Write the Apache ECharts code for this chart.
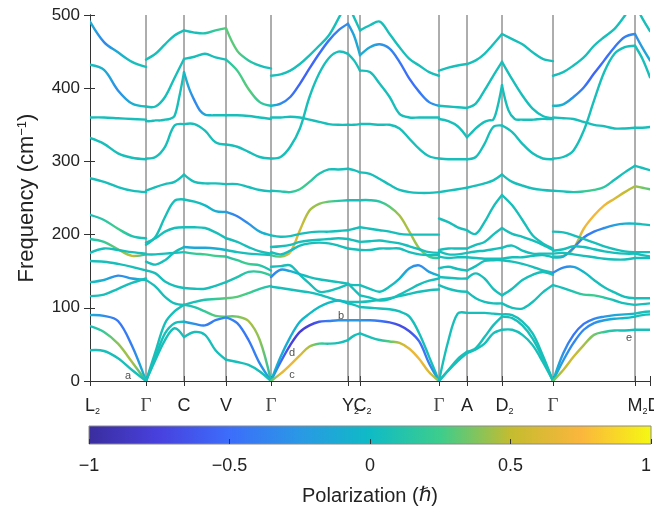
<!DOCTYPE html>
<html lang="en">
<head>
<meta charset="UTF-8">
<title>Phonon bands</title>
<script src="https://cdn.jsdelivr.net/npm/echarts@6/dist/echarts.min.js"></script>
<style>
  html, body { margin: 0; padding: 0; background: #fff; }
  #main { width: 654px; height: 515px; }
</style>
</head>
<body>
<div id="main"></div>
<script>
// high-symmetry points along the path (x units), labels and subscripts
var kPos = [0, 56, 94, 136, 181, 258, 270, 349, 377, 412, 463, 545, 560];
var kMain = ['L', 'Γ', 'C', 'V', 'Γ', 'Y', 'C', 'Γ', 'A', 'D', 'Γ', 'M', 'D'];
var kSub = ['2', '', '', '', '', '2', '2', '', '', '2', '', '2', ''];

// colour map of the polarization bar, from -1 to 1
var cmap = ['#3a2d9e', '#4841df', '#3c6dfb', '#2a98e5', '#0fbbc5', '#3dcd8c', '#c4bc30', '#fbb63d', '#f5f812'];

// frequencies (cm-1) of each band, evenly sampled along each segment
// polarization per band: one number for the whole piece or one value per sample
// L2 -> Γ
var f_LG = [
  [491, 463, 449, 436, 429],
  [432, 425, 397, 379, 375],
  [360, 360, 359, 358, 357],
  [332, 324, 311, 305, 303],
  [277, 272, 265, 260, 258],
  [227, 220, 208, 198, 195],
  [194, 190, 180, 171, 173],
  [175, 181, 179, 176, 174],
  [164, 163, 160, 156, 151],
  [135, 138, 144, 140, 138],
  [116, 118, 126, 134, 140],
  [90, 89, 82, 48, 0],
  [75, 67, 51, 26, 0],
  [42, 41, 31, 15, 0]
];
var p_LG = [
  [-0.1, -0.35, -0.1, 0.05, 0.05],
  [0.05, -0.1, -0.3, -0.1, 0.05],
  0.05, 0.05, 0.05,
  [0.05, 0.15, 0.25, 0.1, 0.05],
  [0.1, 0.2, 0.35, 0.5, 0.1],
  0.05, 0.05,
  [0.05, -0.1, -0.35, -0.2, 0.05],
  0.05,
  [-0.1, -0.3, -0.45, -0.4, 0],
  [0.05, 0.2, 0.4, 0.45, 0.1],
  0.05
];
// Γ -> C
var f_GC = [
  [439, 447, 460, 472, 479],
  [375, 375, 388, 414, 440],
  [355, 355, 356, 356, 357, 358, 362, 388, 422],
  [304, 306, 320, 349, 351],
  [260, 265, 269, 272, 282],
  [186, 197, 224, 246, 248],
  [189, 195, 204, 209, 210],
  [173, 173, 174, 175, 176],
  [163, 159, 165, 176, 183],
  [151, 147, 136, 130, 127],
  [138, 129, 115, 106, 104],
  [0, 40, 79, 95, 104],
  [0, 33, 65, 79, 81],
  [0, 29, 56, 72, 60]
];
var p_GC = [0.05, 0.05, 0.05, 0.05, 0.05, 0.05, 0.05, 0.05, 0.05, 0.05, 0.05, 0.05, 0.05, 0.05];
// C -> V
var f_CV = [
  [479, 476, 475, 479, 482],
  [440, 443, 447, 442, 439],
  [422, 399, 383, 370, 364, 363, 363, 363, 363],
  [351, 351, 342, 326, 323],
  [282, 272, 270, 270, 269],
  [248, 245, 240, 232, 231],
  [210, 210, 209, 203, 195],
  [183, 182, 182, 181, 179],
  [176, 174, 173, 171, 170],
  [127, 126, 126, 130, 135],
  [104, 108, 111, 112, 113],
  [104, 101, 95, 89, 88],
  [81, 78, 76, 83, 87],
  [60, 67, 63, 42, 29]
];
var p_CV = [
  [0.05, 0.05, 0.1, 0.2, 0.3],
  0.05,
  [0, -0.2, -0.35, -0.3, -0.1, 0, 0.05, 0.05, 0.05],
  0.05, 0.05,
  [0.05, 0.05, 0, -0.1, -0.2],
  0.05,
  [-0.1, -0.15, -0.15, -0.1, -0.05],
  [0.1, 0.2, 0.25, 0.25, 0.2],
  0.05,
  [0.05, 0.05, 0.1, 0.2, 0.3],
  [0.05, 0.1, 0.2, 0.3, 0.3],
  [-0.1, -0.3, -0.4, -0.4, -0.35],
  0.05
];
// V -> Γ
var f_VG = [
  [482, 451, 438, 431, 427],
  [439, 424, 399, 381, 376],
  [363, 363, 362, 360, 358],
  [323, 320, 313, 306, 304],
  [269, 269, 265, 261, 259],
  [231, 225, 215, 204, 199],
  [195, 190, 183, 177, 174],
  [179, 176, 174, 173, 172],
  [170, 165, 160, 158, 151],
  [135, 142, 149, 149, 144],
  [113, 115, 120, 126, 130],
  [88, 88, 82, 56, 0],
  [87, 79, 56, 24, 0],
  [29, 26, 22, 13, 0]
];
var p_VG = [
  [0.3, 0.3, 0.15, 0.05, 0.05],
  [0.1, 0.25, 0.3, 0.2, 0.1],
  0.05, 0.05, 0.05,
  [-0.2, -0.4, -0.3, -0.1, 0],
  0.05, 0.05,
  [0.1, 0.2, 0.25, 0.15, 0.05],
  [0.05, 0.1, 0.15, 0.2, 0.2],
  [0.3, 0.3, 0.25, 0.15, 0.1],
  [0.3, 0.35, 0.45, 0.4, 0.1],
  [-0.35, -0.4, -0.45, -0.35, -0.1],
  0.05
];
// Γ -> Y2
var f_GY = [
  [417, 419, 424, 433, 445, 458, 472, 495, 520],
  [376, 379, 388, 406, 427, 447, 465, 479, 488],
  [360, 360, 361, 360, 357, 354, 351, 350, 350],
  [304, 306, 320, 345, 388, 420, 441, 450, 447],
  [260, 259, 258, 262, 272, 283, 289, 289, 290],
  [172, 170, 176, 206, 233, 242, 245, 246, 247],
  [199, 197, 198, 201, 203, 204, 204, 205, 206],
  [183, 184, 186, 190, 192, 193, 194, 195, 194],
  [176, 173, 178, 185, 188, 189, 188, 185, 181],
  [156, 157, 158, 145, 133, 122, 123, 127, 132],
  [142, 152, 150, 146, 142, 139, 137, 135, 133],
  [129, 127, 125, 123, 121, 118, 114, 110, 108],
  [0, 33, 60, 81, 92, 101, 107, 110, 106],
  [0, 26, 49, 67, 76, 81, 82, 83, 83],
  [0, 10, 22, 35, 47, 51, 51, 52, 56]
];
var p_GY = [
  0.05,
  [0, -0.3, -0.45, -0.55, -0.55, -0.5, -0.45, -0.4, -0.3],
  0.05, 0.05,
  [0.05, 0.1, 0.15, 0.25, 0.2, 0.1, 0.05, 0.05, 0.05],
  [0.15, 0.35, 0.7, 0.55, 0.45, 0.4, 0.3, 0.15, 0.05],
  0.05, 0.05, 0.05, 0.05,
  [-0.35, -0.3, -0.1, 0, 0.05, 0.05, 0.05, 0.05, 0.05],
  0.05,
  [0, -0.1, -0.1, -0.05, 0, 0, 0, 0, 0],
  [0, -0.5, -0.75, -0.8, -0.75, -0.6, -0.4, -0.3, -0.25],
  [0.3, 0.65, 0.7, 0.62, 0.45, 0.25, 0.1, 0.05, 0.05]
];
// Y2 -> C2
var f_YC = [
  [515, 497, 479],
  [488, 472, 445],
  [350, 350, 351],
  [447, 438, 424],
  [290, 288, 285],
  [247, 247, 247],
  [206, 208, 210],
  [194, 192, 190],
  [181, 180, 179],
  [132, 131, 131],
  [133, 125, 117],
  [108, 108, 108],
  [106, 104, 101],
  [83, 83, 83],
  [56, 62, 65]
];
var p_YC = [0.05, [-0.3, -0.15, -0.1], 0.05, 0.05, 0.05, 0.05, 0.05, 0.05, 0.05, 0.05, 0.05, 0.05, 0.05, -0.25, 0.05];
// C2 -> Γ
var f_CG = [
  [479, 486, 491, 474, 456, 440, 431, 422, 417],
  [445, 456, 460, 454, 436, 413, 395, 381, 376],
  [351, 351, 350, 350, 345, 331, 317, 307, 304],
  [424, 422, 406, 388, 365, 360, 360, 360, 360],
  [285, 283, 276, 268, 261, 258, 257, 257, 258],
  [247, 247, 245, 238, 226, 204, 181, 170, 168],
  [210, 208, 206, 204, 201, 200, 200, 200, 200],
  [190, 191, 192, 190, 188, 184, 180, 176, 175],
  [179, 179, 181, 181, 181, 176, 173, 172, 172],
  [131, 126, 122, 129, 140, 154, 158, 149, 144],
  [117, 114, 110, 112, 118, 125, 132, 137, 140],
  [108, 109, 111, 113, 116, 119, 122, 124, 125],
  [101, 100, 99, 98, 95, 88, 65, 33, 0],
  [83, 83, 82, 80, 76, 68, 54, 24, 0],
  [65, 60, 56, 54, 52, 44, 30, 12, 0]
];
var p_CG = [
  0.05,
  [-0.1, -0.15, -0.25, -0.35, -0.45, -0.5, -0.45, -0.35, -0.2],
  0.05, 0.05, 0.05,
  [0.05, 0.1, 0.15, 0.3, 0.45, 0.45, 0.4, 0.25, 0.15],
  0.05, 0.05, 0.05,
  [0.05, 0.05, 0.05, 0.05, -0.05, -0.2, -0.35, -0.2, 0],
  0.05, 0.05, 0.05,
  [-0.25, -0.35, -0.45, -0.6, -0.7, -0.65, -0.5, -0.4, 0],
  [0.05, 0.05, 0.1, 0.3, 0.5, 0.65, 0.7, 0.6, 0.35]
];
// Γ -> A
var f_GA = [
  [424, 428, 431, 433],
  [376, 375, 374, 373],
  [358, 355, 348, 333],
  [304, 303, 303, 303],
  [258, 260, 262, 264],
  [222, 217, 210, 206],
  [179, 181, 181, 181],
  [177, 173, 173, 175],
  [170, 168, 169, 169],
  [154, 156, 153, 151],
  [142, 141, 140, 140],
  [131, 126, 123, 122],
  [0, 55, 92, 93],
  [0, 15, 30, 40],
  [0, 14, 27, 38]
];
var p_GA = [0.05, 0.05, 0.05, 0.05, 0.05, 0.05, 0.05, 0.05, 0.05, 0.05, 0.05, 0.05, 0.05, 0.05, 0.05];
// A -> D2
var f_AD = [
  [433, 438, 447, 460, 474],
  [373, 379, 397, 417, 436],
  [333, 339, 345, 350, 354, 356, 357, 375, 404],
  [303, 306, 324, 347, 349],
  [264, 267, 270, 274, 282],
  [206, 201, 217, 238, 254],
  [181, 186, 190, 200, 209],
  [175, 177, 178, 180, 182],
  [169, 168, 167, 167, 167],
  [151, 157, 164, 165, 165],
  [140, 147, 140, 126, 117],
  [122, 113, 108, 106, 106],
  [93, 93, 93, 92, 91],
  [40, 45, 60, 76, 88],
  [38, 43, 51, 65, 70]
];
var p_AD = [0.05, 0.05, 0.05, 0.05, 0.05, 0.05, 0.05, 0.05, 0.05, 0.05, 0.05, 0.05, 0.05, 0.05, 0.05];
// D2 -> Γ
var f_DG = [
  [474, 467, 460, 449, 440, 437],
  [436, 412, 390, 372, 362, 359],
  [404, 370, 358, 357, 357, 357, 358, 358, 358],
  [349, 340, 324, 311, 304, 303],
  [282, 272, 267, 263, 261, 260],
  [254, 240, 220, 199, 188, 181],
  [209, 201, 197, 192, 186, 179],
  [182, 185, 178, 174, 174, 174],
  [167, 169, 169, 171, 172, 169],
  [165, 163, 160, 156, 151, 148],
  [117, 126, 138, 145, 149, 145],
  [106, 100, 99, 108, 121, 131],
  [91, 90, 81, 65, 35, 0],
  [88, 86, 76, 58, 31, 0],
  [70, 70, 63, 49, 26, 0]
];
var p_DG = [0.05, 0.05, 0.05, 0.05, 0.05, 0.05, 0.05, 0.05, 0.05, 0.05, 0.05, 0.05, 0.05, 0.05, 0.05];
// Γ -> M2
var f_GM = [
  [417, 422, 431, 442, 458, 470, 481, 499, 520],
  [376, 378, 388, 401, 420, 438, 456, 470, 474],
  [360, 359, 358, 354, 350, 348, 345, 345, 346],
  [304, 306, 315, 342, 383, 422, 447, 456, 458],
  [260, 259, 258, 259, 261, 265, 275, 285, 294],
  [170, 171, 181, 208, 226, 240, 249, 258, 266],
  [169, 170, 182, 196, 204, 209, 213, 215, 215],
  [204, 203, 199, 194, 189, 184, 180, 177, 176],
  [178, 180, 184, 183, 180, 177, 175, 174, 174],
  [174, 175, 173, 171, 169, 167, 166, 166, 168],
  [148, 155, 156, 149, 138, 128, 121, 115, 113],
  [131, 127, 122, 118, 117, 114, 110, 106, 104],
  [0, 38, 63, 78, 85, 88, 90, 91, 92],
  [0, 28, 52, 70, 79, 83, 85, 86, 88],
  [0, 15, 33, 49, 63, 67, 69, 69, 70]
];
var p_GM = [
  0.05,
  [0, -0.1, -0.3, -0.45, -0.55, -0.5, -0.45, -0.4, -0.3],
  0.05, 0.05,
  [0.05, 0.05, 0.1, 0.2, 0.25, 0.15, 0.05, 0.05, 0.05],
  [0.1, 0.3, 0.45, 0.7, 0.72, 0.7, 0.6, 0.5, 0.45],
  [0.05, -0.1, -0.35, -0.45, -0.4, -0.3, -0.2, -0.1, 0],
  0.05, 0.05, 0.05,
  [-0.3, -0.35, -0.2, 0, 0.05, 0.05, 0.05, 0.05, 0.05],
  [0.05, 0.05, 0.1, 0.2, 0.25, 0.15, 0.05, 0.05, 0.05],
  [0, -0.3, -0.45, -0.45, -0.35, -0.25, -0.15, -0.1, -0.05],
  [0, -0.25, -0.35, -0.35, -0.3, -0.2, -0.1, 0, 0],
  [0.3, 0.5, 0.55, 0.45, 0.35, 0.2, 0.1, 0.05, 0.05]
];
// M2 -> D
var f_MD = [
  [515, 495, 478],
  [474, 455, 438],
  [346, 346, 347],
  [458, 440, 415],
  [294, 291, 288],
  [266, 264, 262],
  [215, 214, 213],
  [176, 176, 176],
  [174, 172, 170],
  [168, 168, 168],
  [113, 113, 113],
  [104, 105, 106],
  [92, 94, 95],
  [88, 90, 91],
  [70, 70, 70]
];
var p_MD = [0.05, [-0.3, -0.2, -0.1], 0.05, 0.05, 0.05, [0.45, 0.35, 0.3], 0.05, 0.05, 0.05, 0.05, 0.05, 0.05, 0.05, 0.05, 0.05];

// letters marking some branches
var notes = [['a', 38, 7], ['b', 251, 89], ['c', 202, 8], ['d', 202, 38], ['e', 539, 59]];

var segments = [
  [f_LG, p_LG], [f_GC, p_GC], [f_CV, p_CV], [f_VG, p_VG], [f_GY, p_GY], [f_YC, p_YC],
  [f_CG, p_CG], [f_GA, p_GA], [f_AD, p_AD], [f_DG, p_DG], [f_GM, p_GM], [f_MD, p_MD]
];

var bandList = [];
segments.forEach(function (s, i) {
  s[0].forEach(function (row, j) {
    bandList.push({ x0: kPos[i], x1: kPos[i + 1], f: row, p: s[1][j] });
  });
});

function polColor(p) {
  return echarts.color.lerp((p + 1) / 2, cmap);
}

function renderBand(params, api) {
  var b = bandList[params.dataIndex];
  var n = b.f.length;
  var pts = [], stops = [];
  for (var j = 0; j < n; j++) {
    var xv = b.x0 + (b.x1 - b.x0) * j / (n - 1);
    pts.push(api.coord([xv, b.f[j]]));
    var pv = typeof b.p === 'number' ? b.p : b.p[j];
    stops.push({ offset: j / (n - 1), color: polColor(pv) });
  }
  return {
    type: 'polyline',
    shape: { points: pts, smooth: 0.35 },
    style: {
      fill: null,
      stroke: new echarts.graphic.LinearGradient(pts[0][0], 0, pts[n - 1][0], 0, stops, true),
      lineWidth: 2.4,
      lineCap: 'round'
    }
  };
}

function renderKLine(params, api) {
  var p0 = api.coord([api.value(0), 0]);
  var p1 = api.coord([api.value(0), 500]);
  return {
    type: 'line',
    shape: { x1: p0[0], y1: p0[1], x2: p1[0], y2: p1[1] },
    style: { stroke: '#5c5c5c', lineWidth: 1 }
  };
}

function renderBar(params, api) {
  var a = api.coord([-1, 1]);
  var b = api.coord([1, 0]);
  var stops = cmap.map(function (c, i) { return { offset: i / (cmap.length - 1), color: c }; });
  return {
    type: 'rect',
    shape: { x: a[0], y: a[1], width: b[0] - a[0], height: b[1] - a[1] },
    style: { fill: new echarts.graphic.LinearGradient(0, 0, 1, 0, stops), stroke: '#8a8a8a', lineWidth: 1 }
  };
}

function oneLabel(i) {
  var st = kMain[i] === 'Γ' ? 'g' : 'm';
  var s = '{' + st + '|' + kMain[i] + '}';
  if (kSub[i]) s += '{s|' + kSub[i] + '}';
  return s;
}

// the last two points sit too close for two labels, so M2 carries the D with it
function kLabel(v) {
  var i = kPos.indexOf(v);
  if (i < 0) return '';
  if (i === kPos.length - 2) return '{q| }' + oneLabel(i) + oneLabel(i + 1);
  return (kSub[i] ? '{p| }' : '') + oneLabel(i);
}

var axisColor = '#333';
var font = 'Liberation Sans';

var chart = echarts.init(document.getElementById('main'));
chart.setOption({
  animation: false,
  backgroundColor: '#fff',
  textStyle: { fontFamily: font },
  grid: [
    { left: 90, right: 4, top: 15, bottom: 134, outerBoundsMode: 'none' },
    { left: 89, right: 3, top: 426, height: 18, outerBoundsMode: 'none' }
  ],
  xAxis: [
    {
      gridIndex: 0, type: 'value', min: 0, max: 560, position: 'bottom',
      axisLine: { lineStyle: { color: axisColor, width: 1 } },
      axisTick: { customValues: kPos, length: 5, lineStyle: { color: axisColor } },
      axisLabel: {
        customValues: kPos.slice(0, -1), formatter: kLabel, margin: 15,
        showMinLabel: true, hideOverlap: false,
        rich: {
          m: { fontSize: 18, color: '#222', fontFamily: font, lineHeight: 20 },
          g: { fontSize: 19, color: '#444', fontFamily: 'Liberation Serif', lineHeight: 20 },
          s: { fontSize: 9, color: '#222', fontFamily: font, verticalAlign: 'bottom', lineHeight: 9 },
          p: { width: 5 },
          q: { width: 18 }
        }
      },
      splitLine: { show: false }
    },
    {
      gridIndex: 0, type: 'value', min: 0, max: 560, position: 'top',
      axisLine: { lineStyle: { color: axisColor, width: 1 } },
      axisTick: { customValues: kPos, length: 5, lineStyle: { color: axisColor } },
      axisLabel: { show: false },
      splitLine: { show: false }
    },
    {
      gridIndex: 1, type: 'value', min: -1, max: 1, interval: 0.5, z: 5,
      axisLine: { show: false },
      axisTick: { inside: true, length: 5, lineStyle: { color: '#333' } },
      axisLabel: {
        fontSize: 18, color: '#222', margin: 13, alignMaxLabel: 'right',
        formatter: function (v) { return String(v).replace('-', '\u2212'); }
      },
      splitLine: { show: false },
      name: 'Polarization ({i|ℏ})', nameLocation: 'middle', nameGap: 42,
      nameTextStyle: {
        fontSize: 20, color: '#222',
        rich: { i: { fontSize: 20, fontStyle: 'italic', color: '#222', fontFamily: 'DejaVu Sans' } }
      }
    }
  ],
  yAxis: [
    {
      gridIndex: 0, type: 'value', min: 0, max: 500, interval: 100,
      axisLine: { show: true, lineStyle: { color: axisColor, width: 1 } },
      axisTick: { show: true, length: 6, lineStyle: { color: axisColor } },
      axisLabel: { fontSize: 17, color: '#222', margin: 10 },
      splitLine: { show: false },
      name: 'Frequency (cm{sup|\u22121})', nameLocation: 'middle', nameGap: 52,
      nameTextStyle: {
        fontSize: 22, color: '#222',
        rich: { sup: { fontSize: 13, color: '#222', verticalAlign: 'top', lineHeight: 12 } }
      }
    },
    {
      gridIndex: 0, type: 'value', min: 0, max: 500, interval: 100, position: 'right',
      axisLine: { show: true, lineStyle: { color: axisColor, width: 1 } },
      axisTick: { show: true, length: 5, lineStyle: { color: axisColor } },
      axisLabel: { show: false },
      splitLine: { show: false }
    },
    { gridIndex: 1, type: 'value', min: 0, max: 1, show: false }
  ],
  series: [
    {
      type: 'custom', xAxisIndex: 0, yAxisIndex: 0, z: 1, silent: true,
      data: kPos.slice(1, -1).map(function (v) { return [v, 0]; }),
      renderItem: renderKLine
    },
    {
      type: 'custom', xAxisIndex: 0, yAxisIndex: 0, z: 3, clip: true, silent: true,
      data: bandList.map(function (b, i) { return [b.x0, 250, i]; }),
      renderItem: renderBand
    },
    {
      type: 'scatter', xAxisIndex: 0, yAxisIndex: 0, z: 4, symbolSize: 0, silent: true,
      data: notes.map(function (n) { return { name: n[0], value: [n[1], n[2]] }; }),
      label: { show: true, position: 'inside', formatter: '{b}', fontSize: 11, color: '#222' }
    },
    {
      type: 'custom', xAxisIndex: 2, yAxisIndex: 2, z: 1, silent: true,
      data: [[-1, 0]],
      renderItem: renderBar
    }
  ]
});
</script>
</body>
</html>
